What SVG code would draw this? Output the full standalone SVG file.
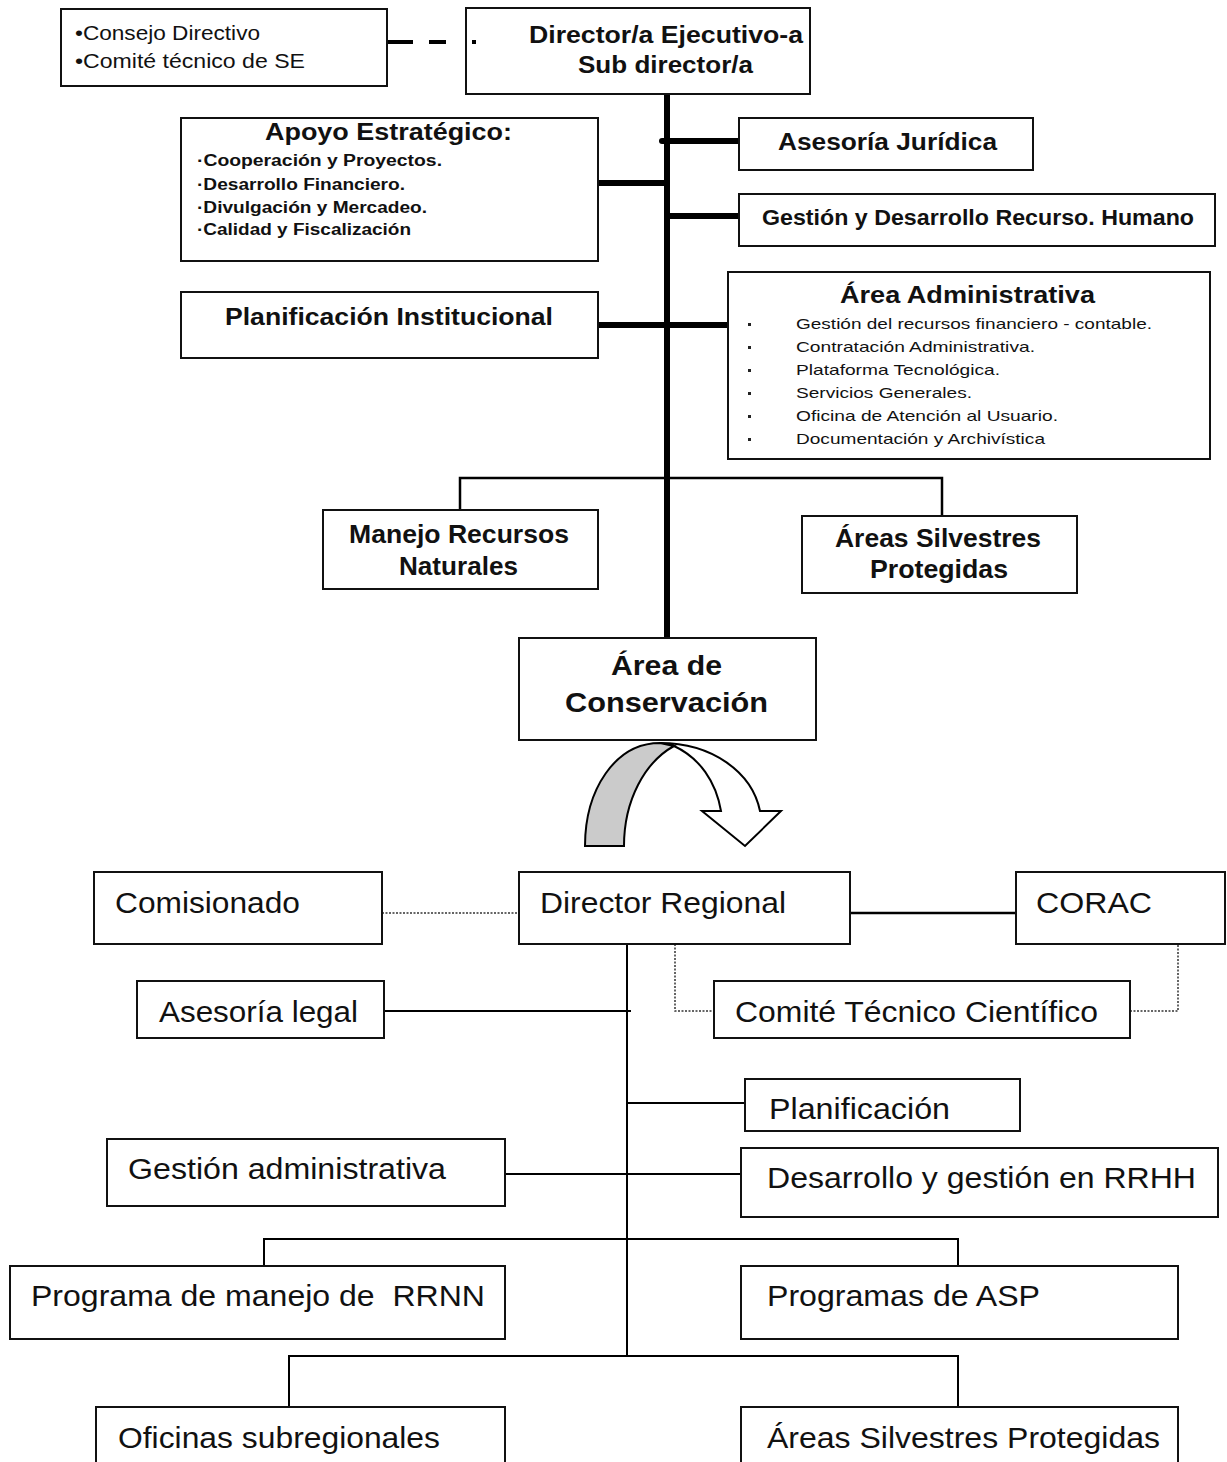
<svg xmlns="http://www.w3.org/2000/svg" width="1227" height="1462" viewBox="0 0 1227 1462">
<style>
text{font-family:"Liberation Sans",Arial,sans-serif;fill:#111}
.b{font-weight:bold}
.box{fill:#fff;stroke:#111;stroke-width:2}
.thick{stroke:#000;stroke-width:6;fill:none;stroke-linecap:round}
.thin{stroke:#000;stroke-width:2.5;fill:none}
.ln{stroke:#000;stroke-width:2;fill:none}
.dot{stroke:#333;stroke-width:1.5;fill:none;stroke-dasharray:2 1.5}
.lo{font-size:30px}
.it{font-size:15px}
</style>
<rect width="1227" height="1462" fill="#fff"/>
<g id="connectors">
  <rect x="388" y="40" width="25" height="4" fill="#000"/>
  <rect x="429" y="40" width="17" height="4" fill="#000"/>
  <rect x="472" y="40" width="4" height="4" fill="#000"/>
  <line class="thick" x1="667" y1="94" x2="667" y2="638"/>
  <line class="thick" x1="598" y1="183" x2="667" y2="183"/>
  <line class="thick" x1="662" y1="141" x2="739" y2="141"/>
  <line class="thick" x1="669" y1="216" x2="739" y2="216"/>
  <line class="thick" x1="596" y1="325" x2="728" y2="325"/>
  <polyline class="thin" points="460,510 460,478 942,478 942,516"/>
  <line class="dot" x1="382" y1="913" x2="519" y2="913"/>
  <line class="thin" x1="850" y1="913" x2="1016" y2="913"/>
  <polyline class="dot" points="675,944 675,1011 714,1011"/>
  <polyline class="dot" points="1130,1011 1178,1011 1178,944"/>
  <line class="ln" x1="627" y1="944" x2="627" y2="1356"/>
  <line class="ln" x1="384" y1="1011" x2="631" y2="1011"/>
  <line class="ln" x1="627" y1="1103" x2="745" y2="1103"/>
  <line class="ln" x1="505" y1="1174" x2="741" y2="1174"/>
  <polyline class="ln" points="264,1266 264,1239 958,1239 958,1266"/>
  <polyline class="ln" points="289,1407 289,1356 958,1356 958,1407"/>
</g>
<g id="n-consejo">
  <rect class="box" x="61" y="9" width="326" height="77"/>
  <text x="75" y="40" font-size="20" textLength="185" lengthAdjust="spacingAndGlyphs">•Consejo Directivo</text>
  <text x="75" y="68" font-size="20" textLength="230" lengthAdjust="spacingAndGlyphs">•Comité técnico de SE</text>
</g>
<g id="n-director">
  <rect class="box" x="466" y="8" width="344" height="86"/>
  <rect x="472" y="40" width="4" height="4" fill="#000"/>
  <text class="b" x="529" y="43" font-size="24" textLength="274" lengthAdjust="spacingAndGlyphs">Director/a Ejecutivo-a</text>
  <text class="b" x="578" y="73" font-size="24" textLength="175" lengthAdjust="spacingAndGlyphs">Sub director/a</text>
</g>
<g id="n-apoyo">
  <rect class="box" x="181" y="118" width="417" height="143"/>
  <text class="b" x="265" y="140" font-size="23" textLength="247" lengthAdjust="spacingAndGlyphs">Apoyo Estratégico:</text>
  <text class="b" x="197" y="166" font-size="16" textLength="245" lengthAdjust="spacingAndGlyphs">·Cooperación y Proyectos.</text>
  <text class="b" x="197" y="190" font-size="16" textLength="208" lengthAdjust="spacingAndGlyphs">·Desarrollo Financiero.</text>
  <text class="b" x="197" y="213" font-size="16" textLength="230" lengthAdjust="spacingAndGlyphs">·Divulgación y Mercadeo.</text>
  <text class="b" x="197" y="235" font-size="16" textLength="214" lengthAdjust="spacingAndGlyphs">·Calidad y Fiscalización</text>
</g>
<g id="n-planinst">
  <rect class="box" x="181" y="292" width="417" height="66"/>
  <text class="b" x="225" y="325" font-size="23" textLength="328" lengthAdjust="spacingAndGlyphs">Planificación Institucional</text>
</g>
<g id="n-juridica">
  <rect class="box" x="739" y="118" width="294" height="52"/>
  <text class="b" x="778" y="150" font-size="23" textLength="219" lengthAdjust="spacingAndGlyphs">Asesoría Jurídica</text>
</g>
<g id="n-rrhh">
  <rect class="box" x="739" y="194" width="476" height="52"/>
  <text class="b" x="762" y="225" font-size="22" textLength="432" lengthAdjust="spacingAndGlyphs">Gestión y Desarrollo Recurso. Humano</text>
</g>
<g id="n-admin">
  <rect class="box" x="728" y="272" width="482" height="187"/>
  <text class="b" x="840" y="303" font-size="23" textLength="255" lengthAdjust="spacingAndGlyphs">Área Administrativa</text>
  <g fill="#222">
    <rect x="748" y="323" width="3" height="3"/><rect x="748" y="346" width="3" height="3"/><rect x="748" y="369" width="3" height="3"/>
    <rect x="748" y="392" width="3" height="3"/><rect x="748" y="415" width="3" height="3"/><rect x="748" y="438" width="3" height="3"/>
  </g>
  <text class="it" x="796" y="329" textLength="356" lengthAdjust="spacingAndGlyphs">Gestión del recursos financiero - contable.</text>
  <text class="it" x="796" y="352" textLength="239" lengthAdjust="spacingAndGlyphs">Contratación Administrativa.</text>
  <text class="it" x="796" y="375" textLength="204" lengthAdjust="spacingAndGlyphs">Plataforma Tecnológica.</text>
  <text class="it" x="796" y="398" textLength="176" lengthAdjust="spacingAndGlyphs">Servicios Generales.</text>
  <text class="it" x="796" y="421" textLength="262" lengthAdjust="spacingAndGlyphs">Oficina de Atención al Usuario.</text>
  <text class="it" x="796" y="444" textLength="249" lengthAdjust="spacingAndGlyphs">Documentación y Archivística</text>
</g>
<g id="n-manejo">
  <rect class="box" x="323" y="510" width="275" height="79"/>
  <text class="b" x="349" y="543" font-size="25" textLength="220" lengthAdjust="spacingAndGlyphs">Manejo Recursos</text>
  <text class="b" x="399" y="575" font-size="25" textLength="119" lengthAdjust="spacingAndGlyphs">Naturales</text>
</g>
<g id="n-asp-top">
  <rect class="box" x="802" y="516" width="275" height="77"/>
  <text class="b" x="835" y="547" font-size="25" textLength="206" lengthAdjust="spacingAndGlyphs">Áreas Silvestres</text>
  <text class="b" x="870" y="578" font-size="25" textLength="138" lengthAdjust="spacingAndGlyphs">Protegidas</text>
</g>
<g id="n-areacons">
  <rect class="box" x="519" y="638" width="297" height="102"/>
  <text class="b" x="611" y="675" font-size="27" textLength="111" lengthAdjust="spacingAndGlyphs">Área de</text>
  <text class="b" x="565" y="712" font-size="27" textLength="203" lengthAdjust="spacingAndGlyphs">Conservación</text>
</g>
<g id="curved-arrow" stroke="#000" stroke-width="2" stroke-linejoin="miter">
  <path d="M660,743 C712,743 752,772 760,811 L781,811 L745,846 L702,811 L721,811 C716,782 700,758 674,746 Z" fill="#fff"/>
  <path d="M585,846 C585,790 615,743 660,743 L674,746 C645,762 624,800 624,846 Z" fill="#cbcbcb"/>
</g>
<g id="n-comisionado">
  <rect class="box" x="94" y="872" width="288" height="72"/>
  <text class="lo" x="115" y="913" textLength="185" lengthAdjust="spacingAndGlyphs">Comisionado</text>
</g>
<g id="n-dirreg">
  <rect class="box" x="519" y="872" width="331" height="72"/>
  <text class="lo" x="540" y="913" textLength="246" lengthAdjust="spacingAndGlyphs">Director Regional</text>
</g>
<g id="n-corac">
  <rect class="box" x="1016" y="872" width="209" height="72"/>
  <text class="lo" x="1036" y="913" textLength="116" lengthAdjust="spacingAndGlyphs">CORAC</text>
</g>
<g id="n-aseslegal">
  <rect class="box" x="137" y="981" width="247" height="57"/>
  <text class="lo" x="159" y="1022" textLength="199" lengthAdjust="spacingAndGlyphs">Asesoría legal</text>
</g>
<g id="n-comite">
  <rect class="box" x="714" y="981" width="416" height="57"/>
  <text class="lo" x="735" y="1022" textLength="363" lengthAdjust="spacingAndGlyphs">Comité Técnico Científico</text>
</g>
<g id="n-planif">
  <rect class="box" x="745" y="1079" width="275" height="52"/>
  <text class="lo" x="769" y="1119" textLength="181" lengthAdjust="spacingAndGlyphs">Planificación</text>
</g>
<g id="n-gestadmin">
  <rect class="box" x="107" y="1139" width="398" height="67"/>
  <text class="lo" x="128" y="1179" textLength="318" lengthAdjust="spacingAndGlyphs">Gestión administrativa</text>
</g>
<g id="n-desrrhh">
  <rect class="box" x="741" y="1148" width="477" height="69"/>
  <text class="lo" x="767" y="1188" textLength="429" lengthAdjust="spacingAndGlyphs">Desarrollo y gestión en RRHH</text>
</g>
<g id="n-prrnn">
  <rect class="box" x="10" y="1266" width="495" height="73"/>
  <text class="lo" x="31" y="1306" textLength="454" lengthAdjust="spacingAndGlyphs" xml:space="preserve">Programa de manejo de  RRNN</text>
</g>
<g id="n-pasp">
  <rect class="box" x="741" y="1266" width="437" height="73"/>
  <text class="lo" x="767" y="1306" textLength="273" lengthAdjust="spacingAndGlyphs">Programas de ASP</text>
</g>
<g id="n-oficinas">
  <rect class="box" x="96" y="1407" width="409" height="70"/>
  <text class="lo" x="118" y="1448" textLength="322" lengthAdjust="spacingAndGlyphs">Oficinas subregionales</text>
</g>
<g id="n-asp-bottom">
  <rect class="box" x="741" y="1407" width="437" height="70"/>
  <text class="lo" x="767" y="1448" textLength="393" lengthAdjust="spacingAndGlyphs">Áreas Silvestres Protegidas</text>
</g>
</svg>
